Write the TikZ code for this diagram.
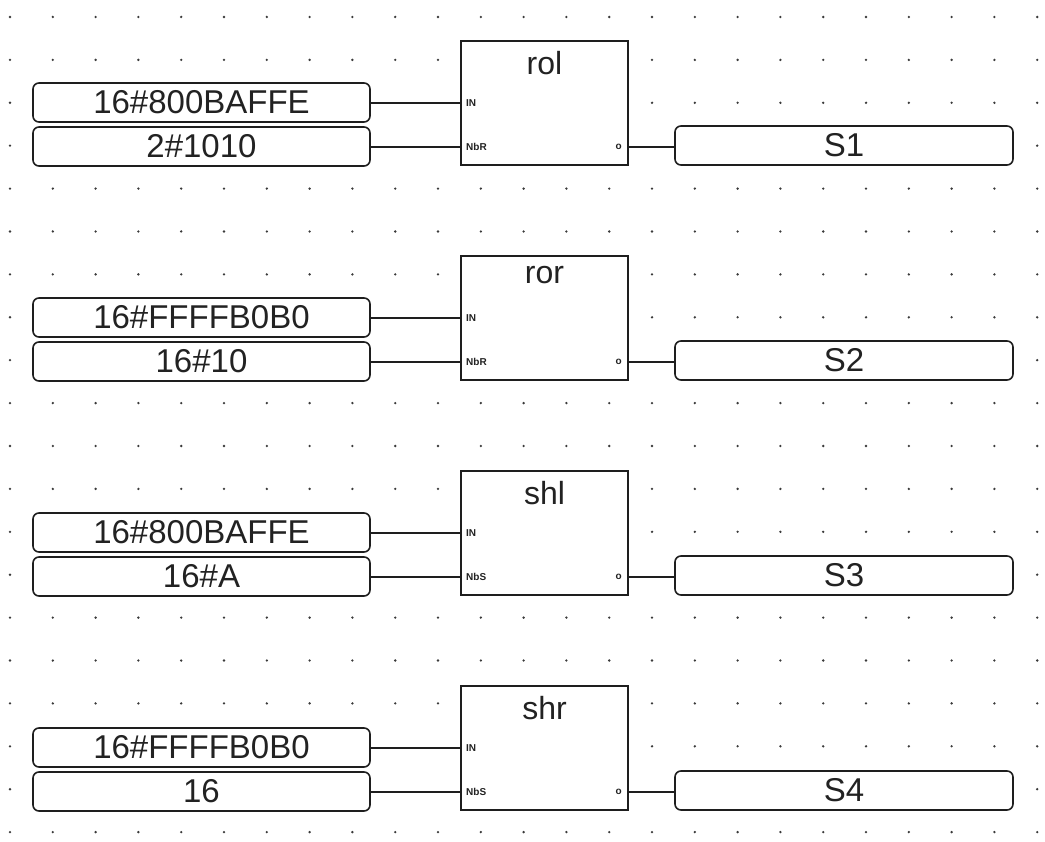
\documentclass[tikz,border=0pt]{standalone}
\usepackage{fontspec}
\setmainfont{Liberation Sans}
\usepackage{tikz}
\usetikzlibrary{positioning,calc}
\definecolor{fbdline}{HTML}{1E1E1E}
\definecolor{fbdtext}{HTML}{222222}
\definecolor{fbddot}{HTML}{3A3A3A}

\begin{document}
\begin{tikzpicture}[x=1pt, y=-1pt,
    fbd_block/.style={draw=fbdline, fill=white, line width=1.6pt, minimum width=167pt, minimum height=124pt, inner sep=0pt},
    fbd_title/.style={font=\fontsize{32}{32}\selectfont, text=fbdtext, anchor=north, inner sep=0pt},
    fbd_pin/.style={font=\fontsize{10}{10}\selectfont\bfseries, text=fbdtext, inner sep=0pt},
    var_box/.style={draw=fbdline, fill=white, line width=1.6pt, rounded corners=6pt, minimum width=337pt, minimum height=39pt, inner sep=0pt, font=\fontsize{33}{33}\selectfont, text=fbdtext},
    out_box/.style={var_box, minimum width=338pt},
    wire/.style={draw=fbdline, line width=1.5pt}
]
    \useasboundingbox (0,0) rectangle (1045,842);
    \fill[white] (0,0) rectangle (1045,842);

    % Editor grid (no dots along the wires)
    \foreach \i in {0,...,24}
        \foreach \j in {0,...,19} {
            \pgfmathtruncatemacro{\r}{mod(\j,5)}
            \pgfmathtruncatemacro{\hide}{((\r==2 || \r==3) && (\i==9 || \i==10)) || (\r==3 && \i==15) ? 1 : 0}
            \ifnum\hide=0
                \fill[fbddot] (10+42.8*\i, 17+42.9*\j) circle (1.3pt);
            \fi
        }

    % Block 1: rol
    \node[fbd_block] (blk1) at (544.5, 103) {};
    \node[fbd_title] (ttl1) at ([yshift=-11pt]blk1.north) {rol};
    \node[fbd_pin, anchor=west] (pinIn1) at (466, 103) {IN};
    \node[fbd_pin, anchor=west] (pinN1) at (466, 147) {NbR};
    \node[fbd_pin, anchor=east] (pinO1) at (622, 147) {o};
    \node[var_box] (inA1) at (201.5, 102.5) {16\#800BAFFE};
    \node[var_box] (inB1) at (201.5, 146.5) {2\#1010};
    \node[out_box] (out1) at (844, 145.5) {S1};

    % Block 2: ror
    \node[fbd_block] (blk2) at (544.5, 318) {};
    \node[fbd_title] (ttl2) at ([yshift=-11pt]blk2.north) {ror};
    \node[fbd_pin, anchor=west] (pinIn2) at (466, 318) {IN};
    \node[fbd_pin, anchor=west] (pinN2) at (466, 362) {NbR};
    \node[fbd_pin, anchor=east] (pinO2) at (622, 362) {o};
    \node[var_box] (inA2) at (201.5, 317.5) {16\#FFFFB0B0};
    \node[var_box] (inB2) at (201.5, 361.5) {16\#10};
    \node[out_box] (out2) at (844, 360.5) {S2};

    % Block 3: shl
    \node[fbd_block] (blk3) at (544.5, 533) {};
    \node[fbd_title] (ttl3) at ([yshift=-11pt]blk3.north) {shl};
    \node[fbd_pin, anchor=west] (pinIn3) at (466, 533) {IN};
    \node[fbd_pin, anchor=west] (pinN3) at (466, 577) {NbS};
    \node[fbd_pin, anchor=east] (pinO3) at (622, 577) {o};
    \node[var_box] (inA3) at (201.5, 532.5) {16\#800BAFFE};
    \node[var_box] (inB3) at (201.5, 576.5) {16\#A};
    \node[out_box] (out3) at (844, 575.5) {S3};

    % Block 4: shr
    \node[fbd_block] (blk4) at (544.5, 748) {};
    \node[fbd_title] (ttl4) at ([yshift=-11pt]blk4.north) {shr};
    \node[fbd_pin, anchor=west] (pinIn4) at (466, 748) {IN};
    \node[fbd_pin, anchor=west] (pinN4) at (466, 792) {NbS};
    \node[fbd_pin, anchor=east] (pinO4) at (622, 792) {o};
    \node[var_box] (inA4) at (201.5, 747.5) {16\#FFFFB0B0};
    \node[var_box] (inB4) at (201.5, 791.5) {16};
    \node[out_box] (out4) at (844, 790.5) {S4};

    % Wires
    \foreach \k in {1,2,3,4} {
        \draw[wire] (inA\k.east |- pinIn\k) -- (blk\k.west |- pinIn\k);
        \draw[wire] (inB\k.east |- pinN\k) -- (blk\k.west |- pinN\k);
        \draw[wire] (blk\k.east |- pinO\k) -- (out\k.west |- pinO\k);
    }

\end{tikzpicture}
\end{document}
